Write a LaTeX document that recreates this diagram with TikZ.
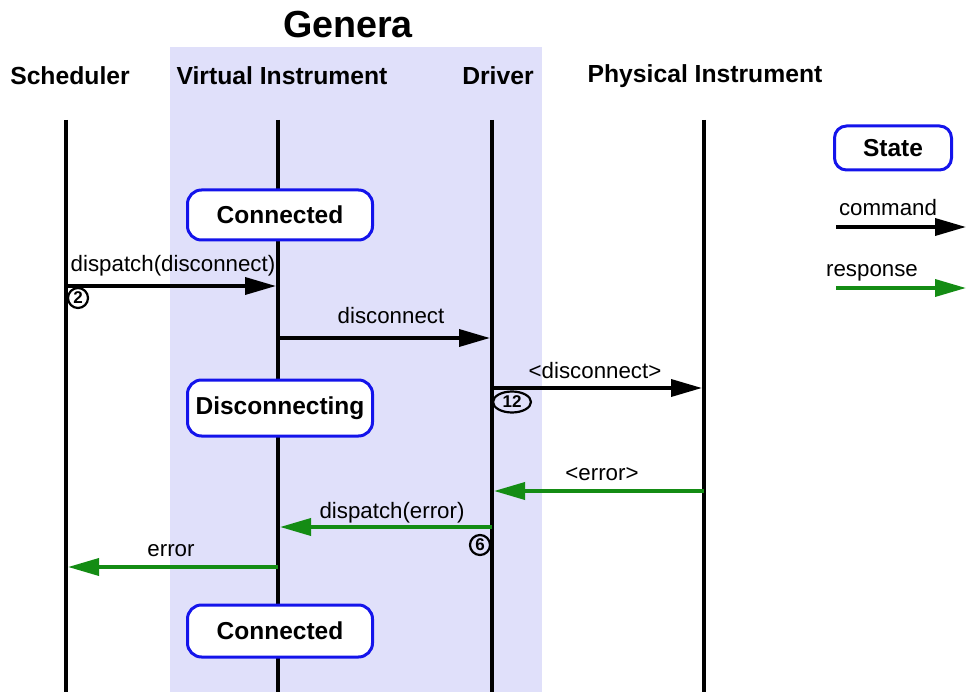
\documentclass[tikz,border=0pt]{standalone}
\usepackage{fontspec}
\setmainfont{Liberation Sans}
\usetikzlibrary{arrows.meta,shapes.geometric}
\definecolor{genbg}{RGB}{224,224,250}
\definecolor{stateblue}{RGB}{20,20,235}
\definecolor{respgreen}{RGB}{20,140,20}
\tikzset{
  hdr/.style={font=\bfseries\fontsize{24.7}{28}\selectfont, inner sep=0pt},
  lifeline/.style={line width=3.6pt},
  statebox/.style={draw=stateblue, line width=3pt, fill=white, rounded corners=14pt,
    minimum width=185pt, minimum height=50pt, font=\bfseries\fontsize{24.5}{28}\selectfont},
  cmd/.style={line width=3.6pt, shorten >=2pt, -{Triangle[length=31pt,width=17pt]}},
  resp/.style={line width=3.6pt, shorten >=2pt, respgreen, -{Triangle[length=31pt,width=17pt]}},
  lbl/.style={font=\fontsize{22.3}{26}\selectfont, inner sep=0pt, anchor=base},
  numc/.style={draw, circle, line width=2.2pt, inner sep=0pt, minimum size=20pt,
    font=\bfseries\fontsize{17}{18}\selectfont},
  nume/.style={draw, ellipse, line width=2.2pt, inner sep=0pt, minimum width=38pt, minimum height=21pt,
    font=\bfseries\fontsize{17}{18}\selectfont}
}
\begin{document}
\begin{tikzpicture}[x=1pt,y=-1pt]
\useasboundingbox (0,0) rectangle (966,692);
\fill[genbg] (170,47) rectangle (542,692);

\node[font=\bfseries\fontsize{37.7}{42}\selectfont, inner sep=0pt] (genera) at (348,25) {Genera};
\node[hdr] (hsch) at (70,76) {Scheduler};
\node[hdr] (hvi) at (282,76) {Virtual Instrument};
\node[hdr] (hdrv) at (498,76) {Driver};
\node[hdr] (hpi) at (705,76) {Physical Instrument};

% lifelines
\coordinate (schT) at (66,120); \coordinate (schB) at (66,692);
\coordinate (viT) at (278,120); \coordinate (viB) at (278,692);
\coordinate (drT) at (492,120); \coordinate (drB) at (492,692);
\coordinate (piT) at (704,120); \coordinate (piB) at (704,692);
\draw[lifeline] (schT) -- (schB);
\draw[lifeline] (viT) -- (viB);
\draw[lifeline] (drT) -- (drB);
\draw[lifeline] (piT) -- (piB);

% states
\node[statebox] (st1) at (280,215) {Connected};
\node[statebox, minimum height=56pt] (st2) at (280,408) {Disconnecting};
\node[statebox, minimum height=52pt] (st3) at (280,631) {Connected};

% message endpoints
\coordinate (a1s) at (66,286);  \coordinate (a1e) at (278,286);
\coordinate (a2s) at (278,338); \coordinate (a2e) at (492,338);
\coordinate (a3s) at (492,388); \coordinate (a3e) at (704,388);
\coordinate (a4s) at (704,491); \coordinate (a4e) at (492,491);
\coordinate (a5s) at (492,527); \coordinate (a5e) at (278,527);
\coordinate (a6s) at (278,567); \coordinate (a6e) at (66,567);

\draw[cmd] (a1s) -- (a1e);
\draw[cmd] (a2s) -- (a2e);
\draw[cmd] (a3s) -- (a3e);
\draw[resp] (a4s) -- (a4e);
\draw[resp] (a5s) -- (a5e);
\draw[resp] (a6s) -- (a6e);

\node[lbl] (l1) at (173,272) {dispatch(disconnect)};
\node[lbl] (l2) at (391,324) {disconnect};
\node[lbl] (l3) at (595,378) {<disconnect>};
\node[lbl] (l4) at (602,480) {<error>};
\node[lbl] (l5) at (392,518) {dispatch(error)};
\node[lbl] (l6) at (171,556) {error};

\node[numc] (n2) at (78,298) {2};
\node[nume] (n12) at (512,402) {12};
\node[numc] (n6) at (480,545) {6};

% legend
\node[statebox, minimum width=117pt, minimum height=44pt, rounded corners=12pt] (lgst) at (893,148) {State};
\coordinate (lc1) at (836,227); \coordinate (lc2) at (968,227);
\coordinate (lr1) at (836,288); \coordinate (lr2) at (968,288);
\draw[cmd] (lc1) -- (lc2);
\draw[resp] (lr1) -- (lr2);
\node[lbl] (lcmd) at (888,216) {command};
\node[lbl] (lrsp) at (872,277) {response};
\end{tikzpicture}
\end{document}
